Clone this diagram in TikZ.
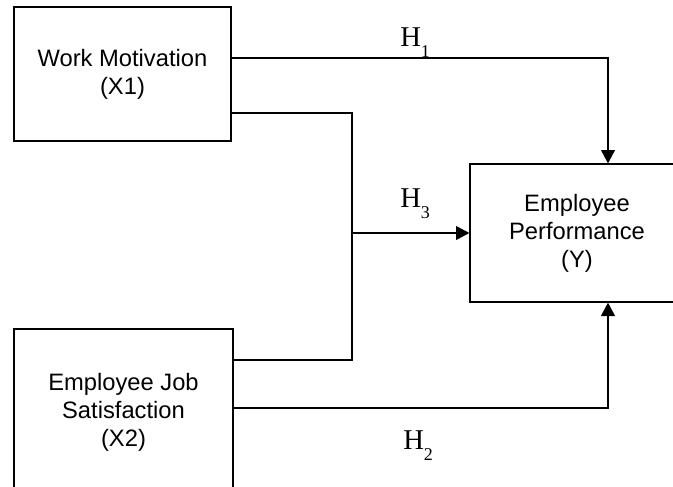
\documentclass[tikz,border=0pt]{standalone}
\usepackage{fontspec}
\setmainfont{Liberation Serif}
\setsansfont{Liberation Sans}
\usetikzlibrary{arrows.meta,positioning,calc}
\tikzset{
    x=0.75pt, y=-0.75pt,
    var/.style ={rectangle, draw, line width=1pt, align=center, font=\sffamily\fontsize{17.8}{21}\selectfont},
    link/.style={line width=0.8pt},
    arrow/.style={link, -{Triangle[length=10pt,width=10.5pt]}},
    hyp/.style={anchor=base west, inner sep=0pt, font=\fontsize{21.5}{21.5}\selectfont}
}
\newcommand{\hypo}[1]{H\raisebox{-8.5pt}{\fontsize{13.5}{13.5}\selectfont #1}}

\begin{document}
\begin{tikzpicture}
    \clip (0,0) rectangle (673,486);
    \node[var, minimum width=162.75pt, minimum height=100.5pt] (wm) at (122.5,74) {Work Motivation\\(X1)};
    \node[var, minimum width=164.25pt, minimum height=124.5pt] (js) at (123.5,412) {Employee Job\\Satisfaction\\(X2)};
    \node[var, minimum width=160.5pt, minimum height=103.5pt] (ep) at (577,233) {Employee\\Performance\\(Y)};

    % turning points
    \coordinate (top) at (608,58);
    \coordinate (ja) at (352,113);
    \coordinate (j) at (352,233);
    \coordinate (jb) at (352,360);
    \coordinate (bot) at (608,408);

    \draw[arrow] (wm.east |- top) -| (ep.north -| top);
    \draw[link] (wm.east |- ja) -- (ja) -- (jb) -- (js.east |- jb);
    \draw[arrow] (j) -- (ep.west |- j);
    \draw[arrow] (js.east |- bot) -| (ep.south -| bot);

    \node[hyp] (h1) at (400,46) {\hypo{1}};
    \node[hyp] (h3) at (400,207) {\hypo{3}};
    \node[hyp] (h2) at (403,449) {\hypo{2}};
\end{tikzpicture}
\end{document}
